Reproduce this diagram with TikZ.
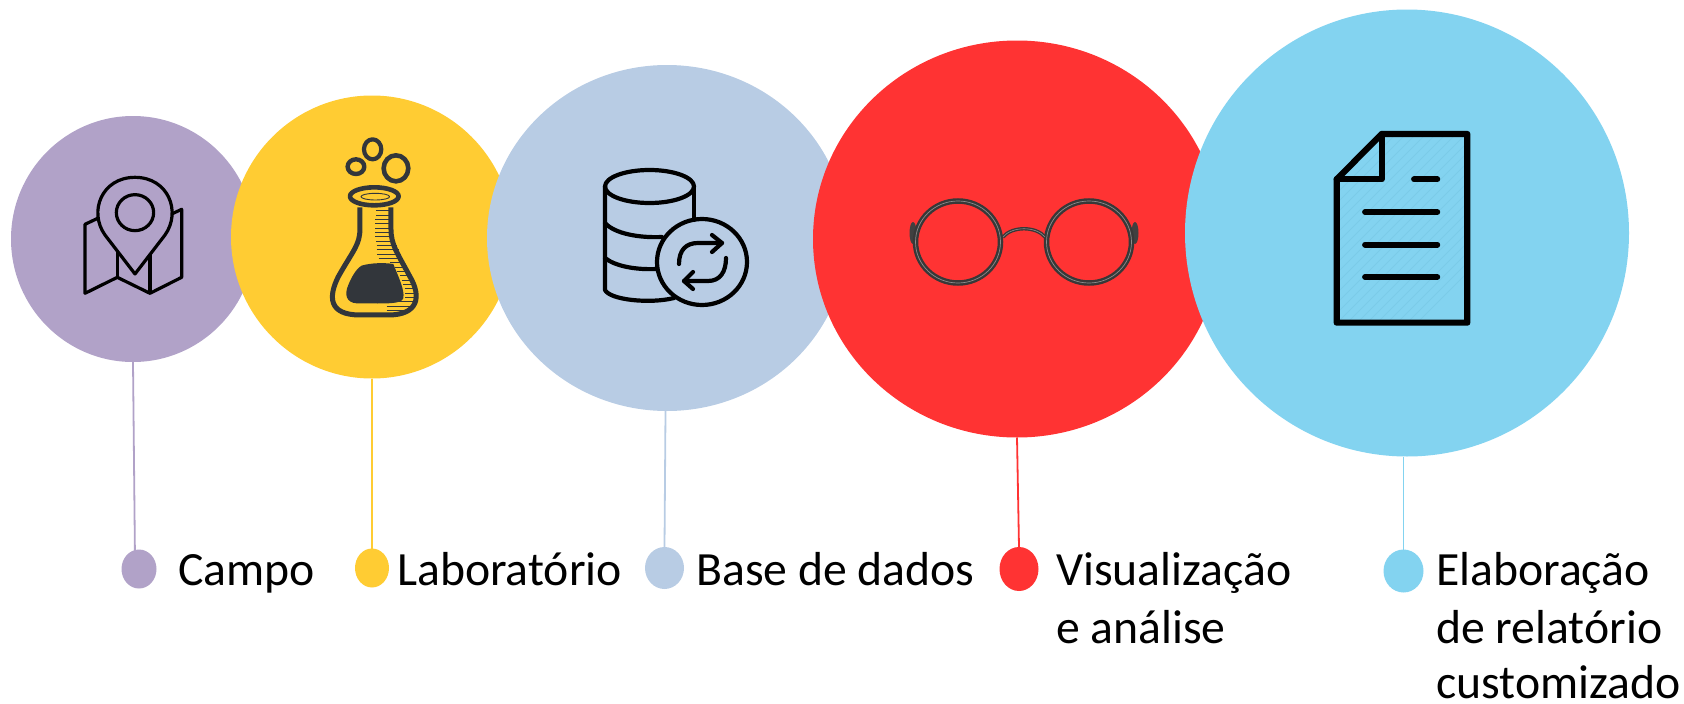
\documentclass[tikz,border=0pt]{standalone}
\usepackage{fontspec}
\setmainfont{Carlito}
\usetikzlibrary{shapes.geometric}

\definecolor{lilac}{HTML}{B1A2C8}
\definecolor{sun}{HTML}{FFCC33}
\definecolor{steel}{HTML}{B8CCE4}
\definecolor{scarlet}{HTML}{FF3333}
\definecolor{sky}{HTML}{83D3F0}
\definecolor{ink}{HTML}{32363B}
\definecolor{hatch}{HTML}{7BCBE8}

\tikzstyle{blob} = [ellipse, inner sep=0pt, outer sep=0pt]
\tikzstyle{caption} = [inner sep=0pt, align=left, font=\fontsize{47.7}{54}\selectfont]
\tikzset{
    blobsize/.style 2 args={minimum width=#1pt, minimum height=#2pt},
    link/.style={line width=1.8pt},
    zoomed/.style={shift={(#1)}, x=0.3333pt, y=-0.3333pt}
}

\begin{document}
\begin{tikzpicture}[x=1pt, y=-1pt]
        \useasboundingbox (0,0) rectangle (1684,704);
        % Big circles, each one over the one before
        \node (c1) at (133,239) [blob, fill=lilac, blobsize={244}{246}] {};
        \node (c2) at (372,237) [blob, fill=sun, blobsize={282}{283}] {};
        \node (c3) at (667,238) [blob, fill=steel, blobsize={360}{346}] {};
        \node (c4) at (1017,239) [blob, fill=scarlet, blobsize={408}{397}] {};
        \node (c5) at (1407,233) [blob, fill=sky, blobsize={444}{447}] {};

        % Legend dots
        \coordinate (j1) at (135,560);
        \node (d1) at (139,569) [blob, fill=lilac, blobsize={35}{39}] {};
        \node (d2) at (372,568) [blob, fill=sun, blobsize={34}{39}] {};
        \node (d3) at (664.5,568) [blob, fill=steel, blobsize={39}{42}] {};
        \node (d4) at (1019,569) [blob, fill=scarlet, blobsize={39}{44}] {};
        \node (d5) at (1403.5,571) [blob, fill=sky, blobsize={40}{43}] {};

        \draw[link, lilac] (c1.south) -- (j1);
        \draw[link, sun] (c2.south) -- (d2.north);
        \draw[link, steel] (c3.south -| d3.north) ++(1,0) -- (d3.north);
        \draw[link, scarlet] (c4.south) -- (d4.north);
        \draw[link, sky] (c5.south -| d5.north) -- (d5.north);

        % Labels
        \node (t1) at (178,585) [caption, anchor=base west] {Campo};
        \node (t2) at (397,585) [caption, anchor=base west] {Laboratório};
        \node (t3) at (696,585) [caption, anchor=base west] {Base de dados};
        \node (t4) at (1056,585) [caption, anchor=base west] {Visualização};
        \node (t4b) at (1056,643) [caption, anchor=base west] {e análise};
        \node (t5) at (1436,585) [caption, anchor=base west] {Elaboração};
        \node (t5b) at (1436,643) [caption, anchor=base west] {de relatório};
        \node (t5c) at (1436,698) [caption, anchor=base west] {customizado};

        % Map with pin
        \begin{scope}[zoomed={60,120}, line width=3.2pt, line join=round]
            \draw (113,295) -- (75,313) -- (75,520) -- (172,472) -- (270,520) -- (365,472) -- (365,268) -- (335,282);
            \draw (172,395) -- (172,472);
            \draw (270,405) -- (270,520);
            \draw (225,462) -- (135,345) .. controls (85,275) and (125,172) .. (225,172)
                .. controls (325,172) and (365,275) .. (315,345) -- cycle;
            \draw (225,278) ellipse (56 and 54);
        \end{scope}

        % Flask
        \begin{scope}[zoomed={60,120}, ink, line join=round]
            \draw[line width=4.2pt] (938,88) ellipse (26 and 30);
            \draw[line width=4.4pt] (888,140) ellipse (25 and 22);
            \draw[line width=4.6pt] (1008,145) ellipse (37 and 39);
            \foreach \yy/\xa/\xb in {272/948/990, 285/948/990, 298/946/990, 311/946/990, 324/946/992,
                337/946/996, 350/946/1000, 363/948/1004, 376/950/1010, 389/950/1016, 402/952/1022, 415/956/1028,
                428/990/1034, 441/1005/1040, 454/1012/1046, 467/1020/1050, 480/1025/1054, 493/1030/1058,
                506/1034/1060, 519/1036/1062, 532/1036/1062, 545/1015/1062, 558/980/1055, 571/980/1040}
                \draw[line width=0.8pt] (\xa,\yy) -- (\xb,\yy);
            \draw[line width=5pt] (900,262) -- (900,325) .. controls (900,375) and (880,390) .. (835,470)
                .. controls (805,530) and (805,585) .. (900,585) -- (985,585)
                .. controls (1075,585) and (1085,530) .. (1050,470)
                .. controls (1010,395) and (993,375) .. (993,325) -- (993,262);
            \draw[line width=4.6pt] (943,229) ellipse (73 and 27);
            \draw[line width=0.9pt] (946,230) ellipse (43 and 10);
            \fill (905,437) .. controls (935,428) and (975,428) .. (1000,432)
                .. controls (1015,470) and (1035,510) .. (1030,535)
                .. controls (1025,555) and (960,550) .. (890,550)
                .. controls (860,548) and (852,525) .. (865,495) .. controls (875,470) and (890,445) .. (905,437) -- cycle;
        \end{scope}

        % Database with sync arrows
        \begin{scope}[line width=4.2pt, line cap=round, line join=round]
            \draw (649.5,186.5) ellipse (44.5 and 16.5);
            \draw (605,186.5) -- (605,290) .. controls (610,300) and (650,304) .. (674,298);
            \draw (694,186.5) -- (694,220);
            \draw (605,223) .. controls (615,234) and (640,238) .. (662,237);
            \draw (605,258) .. controls (615,266) and (635,270) .. (657,269);
            \draw (702,262) ellipse (45 and 43);
            \draw (679,264) .. controls (679,250) and (686,243) .. (698,243) -- (722,243);
            \draw (712,235) -- (722,243) -- (712,252);
            \draw (726,258) .. controls (726,272) and (720,281) .. (708,281) -- (684,281);
            \draw (693,272) -- (684,281) -- (693,289);
        \end{scope}

        % Glasses
        \begin{scope}
            \fill[black!75] (913,233) ellipse (3.5 and 11);
            \fill[black!75] (1135,233) ellipse (3.5 and 11);
            \foreach \lx in {958,1089} {
                \draw[black!78, line width=5.5pt] (\lx,242) ellipse (42.5 and 41);
                \draw[black!45, line width=0.7pt] (\lx,242) ellipse (42.5 and 41);
            }
            \draw[black!78, line width=3.4pt] (1003,237) .. controls (1012,226) and (1036,226) .. (1045,237);
            \draw[black!45, line width=0.6pt] (1003,237) .. controls (1012,226) and (1036,226) .. (1045,237);
        \end{scope}

        % Report page
        \begin{scope}[zoomed={1310,110}, line join=round, line cap=round]
            \begin{scope}
                \clip (215,72) -- (472,72) -- (472,638) -- (80,638) -- (80,208) -- cycle;
                \foreach \dd in {-300,-270,...,600}
                    \draw[hatch, line width=0.9pt] (60,\dd+300) -- (500,\dd-140);
            \end{scope}
            \draw[line width=6.2pt] (215,72) -- (472,72) -- (472,638) -- (80,638) -- (80,208) -- cycle;
            \draw[line width=6.2pt] (215,72) -- (215,208) -- (80,208);
            \draw[line width=5.8pt] (312,208) -- (382,208);
            \foreach \yy in {306,404,501}
                \draw[line width=5.8pt] (165,\yy) -- (382,\yy);
        \end{scope}
    \end{tikzpicture}
\end{document}
